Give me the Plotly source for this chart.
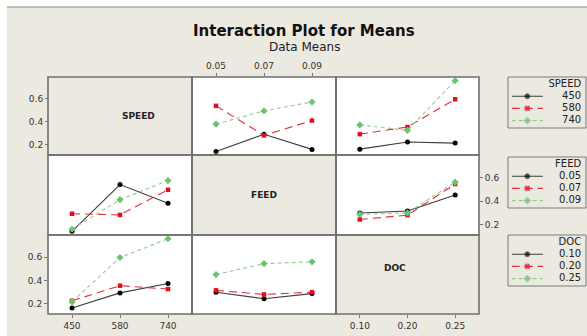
import plotly.graph_objects as go

# ---------------- data ----------------
SPEED_LEVELS = ["450", "580", "740"]
FEED_LEVELS = ["0.05", "0.07", "0.09"]
DOC_LEVELS = ["0.10", "0.20", "0.25"]

# mean response: rows = SPEED level, cols = FEED level
SPEED_FEED = [
    [0.142, 0.292, 0.160],   # SPEED 450
    [0.540, 0.282, 0.412],   # SPEED 580
    [0.381, 0.496, 0.574],   # SPEED 740
]
# rows = SPEED level, cols = DOC level
SPEED_DOC = [
    [0.162, 0.225, 0.215],   # SPEED 450
    [0.293, 0.355, 0.598],   # SPEED 580
    [0.374, 0.326, 0.760],   # SPEED 740
]
# rows = FEED level, cols = DOC level
FEED_DOC = [
    [0.298, 0.315, 0.451],   # FEED 0.05
    [0.243, 0.280, 0.545],   # FEED 0.07
    [0.287, 0.299, 0.561],   # FEED 0.09
]

FACTORS = ["SPEED", "FEED", "DOC"]
Y_TICKS = [0.2, 0.4, 0.6]
Y_TICK_TEXT = ["0.2", "0.4", "0.6"]

# ---------------- style ----------------
W, H = 587, 336
BEIGE = "#ECE9E1"
BORDER = "#6F6F6F"
FONT = "DejaVu Sans"
TXT = "#222222"
STYLES = [
    dict(line=dict(color="#3c3c3c", width=1.1, dash="solid"),
         marker=dict(color="#000000", symbol="circle", size=5)),
    dict(line=dict(color="#e0303a", width=1.1, dash="8px,5px"),
         marker=dict(color="#e0101e", symbol="square", size=4.5)),
    dict(line=dict(color="#8fcf8f", width=1.1, dash="4px,3px"),
         marker=dict(color="#6cc46c", symbol="diamond", size=5.5)),
]

# panel geometry in pixels
XL = [48, 192, 336, 479]
YT = [77, 155, 235, 314]
# legend boxes (pixels)
LEG_X = [508, 586]
LEG_TOP = [77, 157, 235]
LEG_H = 51


def px(x):
    return x / W


def py(y):
    return 1 - y / H


YRANGE = [0.111, 0.792]
XRANGE = [0.5, 3.5]
POS = [1, 2, 3]

fig = go.Figure()

shapes = []
shapes.append(dict(type="rect", xref="paper", yref="paper", x0=px(7), x1=1.0,
                   y0=0, y1=py(7), fillcolor=BEIGE, line=dict(width=0), layer="below"))
shapes.append(dict(type="line", xref="paper", yref="paper", x0=px(7), x1=1.0,
                   y0=py(7), y1=py(7), line=dict(color="#8a8a8a", width=1.2), layer="below"))

for r in range(3):
    for c in range(3):
        fill = BEIGE if r == c else "white"
        shapes.append(dict(type="rect", xref="paper", yref="paper",
                           x0=px(XL[c]), x1=px(XL[c + 1]), y0=py(YT[r + 1]), y1=py(YT[r]),
                           fillcolor=fill, line=dict(width=0), layer="below"))
        shapes.append(dict(type="rect", xref="paper", yref="paper",
                           x0=px(XL[c]), x1=px(XL[c + 1]), y0=py(YT[r + 1]), y1=py(YT[r]),
                           fillcolor="rgba(0,0,0,0)", line=dict(color=BORDER, width=1.6),
                           layer="above"))

annotations = []
for i, name in enumerate(FACTORS):
    annotations.append(dict(text="<b>%s</b>" % name, xref="paper", yref="paper",
                            x=px((XL[i] + XL[i + 1]) / 2), y=py((YT[i] + YT[i + 1]) / 2),
                            showarrow=False, font=dict(family=FONT, size=9, color=TXT)))

annotations.append(dict(text="<b>Interaction Plot for Means</b>", xref="paper", yref="paper",
                        x=px(304), y=py(31), showarrow=False, yanchor="middle",
                        font=dict(family=FONT, size=15, color="#111111")))
annotations.append(dict(text="Data Means", xref="paper", yref="paper",
                        x=px(304), y=py(47), showarrow=False, yanchor="middle",
                        font=dict(family=FONT, size=12, color=TXT)))

# row r: lines = levels of factor r ; column c: x axis = factor c
tables = {
    (0, 1): (SPEED_FEED, False),
    (0, 2): (SPEED_DOC, False),
    (1, 0): (SPEED_FEED, True),
    (1, 2): (FEED_DOC, False),
    (2, 0): (SPEED_DOC, True),
    (2, 1): (FEED_DOC, True),
}
LEVELS = [SPEED_LEVELS, FEED_LEVELS, DOC_LEVELS]

tick_font = dict(family=FONT, size=9, color="#333333")
axis_common = dict(showgrid=False, zeroline=False, showline=False, fixedrange=True)
tick_style = dict(ticks="outside", ticklen=3, tickwidth=1, tickcolor="#777777",
                  showticklabels=True, tickfont=tick_font)

layout_axes = {}
k = 0
for (r, c), (tab, tr) in tables.items():
    k += 1
    xa = "xaxis" if k == 1 else "xaxis%d" % k
    ya = "yaxis" if k == 1 else "yaxis%d" % k
    xref = "x" if k == 1 else "x%d" % k
    yref = "y" if k == 1 else "y%d" % k
    xdict = dict(domain=[px(XL[c]), px(XL[c + 1])], range=XRANGE, anchor=yref,
                 tickvals=POS, ticktext=LEVELS[c], **axis_common)
    ydict = dict(domain=[py(YT[r + 1]), py(YT[r])], range=YRANGE, anchor=xref,
                 tickvals=Y_TICKS, ticktext=Y_TICK_TEXT, **axis_common)
    show_x = False
    if (r, c) == (0, 1):
        xdict.update(side="top")
        show_x = True
    elif (r, c) == (2, 0):
        show_x = True
    elif (r, c) == (1, 2):
        xdict.update(anchor="free", position=py(YT[3]), side="bottom")
        show_x = True
    if show_x:
        xdict.update(**tick_style)
    else:
        xdict.update(ticks="", showticklabels=False)
    show_y = False
    if (r, c) == (0, 1):
        ydict.update(anchor="free", position=px(XL[0]), side="left")
        show_y = True
    elif (r, c) == (2, 0):
        show_y = True
    elif (r, c) == (1, 2):
        ydict.update(side="right")
        show_y = True
    if show_y:
        ydict.update(**tick_style)
    else:
        ydict.update(ticks="", showticklabels=False)
    layout_axes[xa] = xdict
    layout_axes[ya] = ydict

    for i in range(3):
        vals = [tab[j][i] for j in range(3)] if tr else tab[i]
        st = STYLES[i]
        fig.add_trace(go.Scatter(
            x=POS, y=vals, mode="lines+markers", xaxis=xref, yaxis=yref,
            name="%s %s" % (FACTORS[r], LEVELS[r][i]), showlegend=False,
            line=st["line"], marker=st["marker"], hoverinfo="skip"))

# ---------------- legends (drawn on small helper axes) ----------------
SAMPLE_X = [0.0, 0.21, 0.42]      # sample line, marker in the middle
LABEL_X = 0.935
for r in range(3):
    k += 1
    xa, ya = "xaxis%d" % k, "yaxis%d" % k
    xref, yref = "x%d" % k, "y%d" % k
    top = LEG_TOP[r]
    shapes.append(dict(type="rect", xref="paper", yref="paper",
                       x0=px(LEG_X[0]), x1=px(LEG_X[1]), y0=py(top + LEG_H), y1=py(top),
                       fillcolor=BEIGE, line=dict(color="#7a7a7a", width=1), layer="below"))
    layout_axes[xa] = dict(domain=[px(LEG_X[0] + 3.7), px(LEG_X[1])], range=[0, 1],
                           anchor=yref, visible=False, fixedrange=True)
    layout_axes[ya] = dict(domain=[py(top + LEG_H), py(top)], range=[3.607, -0.574],
                           anchor=xref, visible=False, fixedrange=True)
    fig.add_trace(go.Scatter(x=[LABEL_X], y=[0], mode="text", text=[FACTORS[r]],
                             textposition="middle left", xaxis=xref, yaxis=yref,
                             textfont=dict(family=FONT, size=10, color=TXT),
                             showlegend=False, hoverinfo="skip"))
    for i, lev in enumerate(LEVELS[r]):
        st = STYLES[i]
        fig.add_trace(go.Scatter(
            x=SAMPLE_X, y=[i + 1] * 3, mode="lines+markers", xaxis=xref, yaxis=yref,
            line=st["line"],
            marker=dict(color=st["marker"]["color"], symbol=st["marker"]["symbol"],
                        size=[0, st["marker"]["size"], 0]),
            showlegend=False, hoverinfo="skip"))
        fig.add_trace(go.Scatter(
            x=[LABEL_X], y=[i + 1], mode="text", text=[lev], textposition="middle left",
            xaxis=xref, yaxis=yref, textfont=dict(family=FONT, size=10, color=TXT),
            showlegend=False, hoverinfo="skip"))

fig.update_layout(
    width=W, height=H, margin=dict(l=0, r=0, t=0, b=0),
    paper_bgcolor="white", plot_bgcolor="rgba(0,0,0,0)",
    shapes=shapes, annotations=annotations, showlegend=False,
    **layout_axes,
)

fig.write_html("out.html")
